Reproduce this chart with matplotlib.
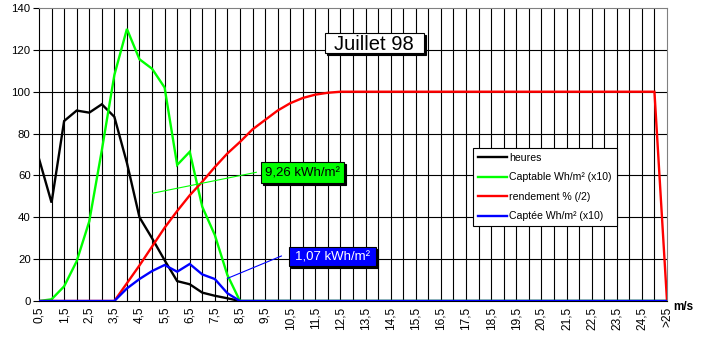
import numpy as np
import matplotlib
matplotlib.use("Agg")
import matplotlib.pyplot as plt
from matplotlib.patches import Rectangle

plt.rcParams["font.family"] = ["Liberation Sans", "DejaVu Sans"]

# wind speed classes (m/s), the last one gathers everything above 25
classes = [f"{v:g}".replace(".", ",") for v in np.arange(0.5, 25.5, 0.5)] + [">25"]

heures = [68, 47, 86, 91, 90, 94, 88, 66, 40, 30, 19.5, 9.5, 8, 4, 2.5, 1.3, 0,
          0, 0, 0, 0, 0, 0, 0, 0, 0, 0, 0, 0, 0, 0, 0, 0, 0, 0, 0, 0, 0, 0, 0, 0,
          0, 0, 0, 0, 0, 0, 0, 0, 0, 0]
captable = [0, 0.8, 7, 19, 38, 72, 108, 130, 115.5, 111, 102, 65, 71.3, 45, 31.5, 12.4, 0,
            0, 0, 0, 0, 0, 0, 0, 0, 0, 0, 0, 0, 0, 0, 0, 0, 0, 0, 0, 0, 0, 0, 0, 0,
            0, 0, 0, 0, 0, 0, 0, 0, 0, 0]
rendement = [0, 0, 0, 0, 0, 0, 0,
             8.5, 17, 26, 35, 43, 50.5, 57, 64, 70.5, 76, 82, 86.5, 91, 94.5, 97, 98.6, 99.5, 100,
             100, 100, 100, 100, 100, 100, 100, 100, 100, 100, 100, 100, 100, 100, 100, 100,
             100, 100, 100, 100, 100, 100, 100, 100, 100, 0]
captee = [0, 0, 0, 0, 0, 0, 0,
          6, 10.5, 14.3, 17.2, 14, 17.7, 12.7, 10.5, 3.7, 0,
          0, 0, 0, 0, 0, 0, 0, 0, 0, 0, 0, 0, 0, 0, 0, 0, 0, 0, 0, 0, 0, 0, 0, 0,
          0, 0, 0, 0, 0, 0, 0, 0, 0, 0]

total_captable = "9,26 kWh/m²"
total_captee = "1,07 kWh/m²"

series = [
    (heures, "black", "heures"),
    (captable, "#00ff00", "Captable Wh/m² (x10)"),
    (rendement, "#ff0000", "rendement % (/2)"),
    (captee, "#0000ff", "Captée Wh/m² (x10)"),
]

fig = plt.figure(figsize=(7.12, 3.44), dpi=100)
ax = fig.add_axes([39 / 712, 1 - 301 / 344, 628 / 712, 293 / 344])

x = np.arange(len(classes))
for vals, col, lab in series:
    ax.plot(x, vals, color=col, lw=1.7, label=lab, zorder=3, solid_joinstyle="miter")

ax.set_xlim(0, len(classes) - 1)
ax.set_ylim(0, 140)
ax.set_yticks(np.arange(0, 141, 20))
ax.set_xticks(x[::2])
ax.set_xticklabels(classes[::2], rotation=90, fontsize=8.6)
ax.tick_params(axis="x", length=0, pad=4)
ax.tick_params(axis="y", length=4.5, width=0.8, pad=1.5, labelsize=8.2)

# grid: every class vertically, every 20 horizontally
for xi in x[1:-1]:
    ax.axvline(xi, color="black", lw=0.8, zorder=1)
for yv in range(20, 140, 20):
    ax.axhline(yv, color="black", lw=0.8, zorder=1)
for s in ("top", "right"):
    ax.spines[s].set_color("#808080")
for s in ("left", "bottom"):
    ax.spines[s].set_color("black")
for sp in ax.spines.values():
    sp.set_linewidth(0.8)

fig.text(683 / 712, 1 - 307 / 344, "m/s", fontsize=8.5, fontweight="bold",
         ha="center", va="center")

leg = ax.legend(loc="upper left", bbox_to_anchor=(473 / 712, 1 - 148 / 344),
                bbox_transform=fig.transFigure, fontsize=7.6, frameon=True,
                fancybox=False, framealpha=1, edgecolor="black",
                handlelength=2.75, handletextpad=0.25, labelspacing=0.9,
                borderpad=0.45, borderaxespad=0)
leg.get_frame().set_linewidth(0.8)
leg.set_zorder(6)

# pixel size of one data unit, used to size the text boxes
px_x = 628 / (len(classes) - 1)
px_y = 293 / 140


def boxed(cx, cy, w, h, text, fc, tc, fs):
    # box with a drop shadow, centred on (cx, cy) in data units, size in pixels
    dw, dh = w / px_x, h / px_y
    sx, sy = 2 / px_x, 2 / px_y
    ax.add_patch(Rectangle((cx - dw / 2 + sx, cy - dh / 2 - sy), dw, dh,
                           fc="black", ec="black", lw=0.8, zorder=7))
    ax.add_patch(Rectangle((cx - dw / 2, cy - dh / 2), dw, dh,
                           fc=fc, ec="black", lw=0.8, zorder=8))
    ax.text(cx, cy, text, color=tc, fontsize=fs, ha="center",
            va="center_baseline", zorder=9)


# leader lines to the energy totals
ax.plot([9.05, 17.3], [51.5, 61.5], color="#00ff00", lw=0.8, zorder=4)
ax.plot([15.0, 19.3], [10.8, 21.5], color="#0000ff", lw=0.8, zorder=4)

boxed(26.7, 123.3, 99, 20.6, "Juillet 98", "white", "black", 14.5)
boxed(20.97, 61.4, 83, 21.6, total_captable, "#00ff00", "black", 9.5)
boxed(23.35, 21.3, 86.7, 19.3, total_captee, "#0000ff", "white", 9.5)

fig.savefig("out.png", dpi=100)
